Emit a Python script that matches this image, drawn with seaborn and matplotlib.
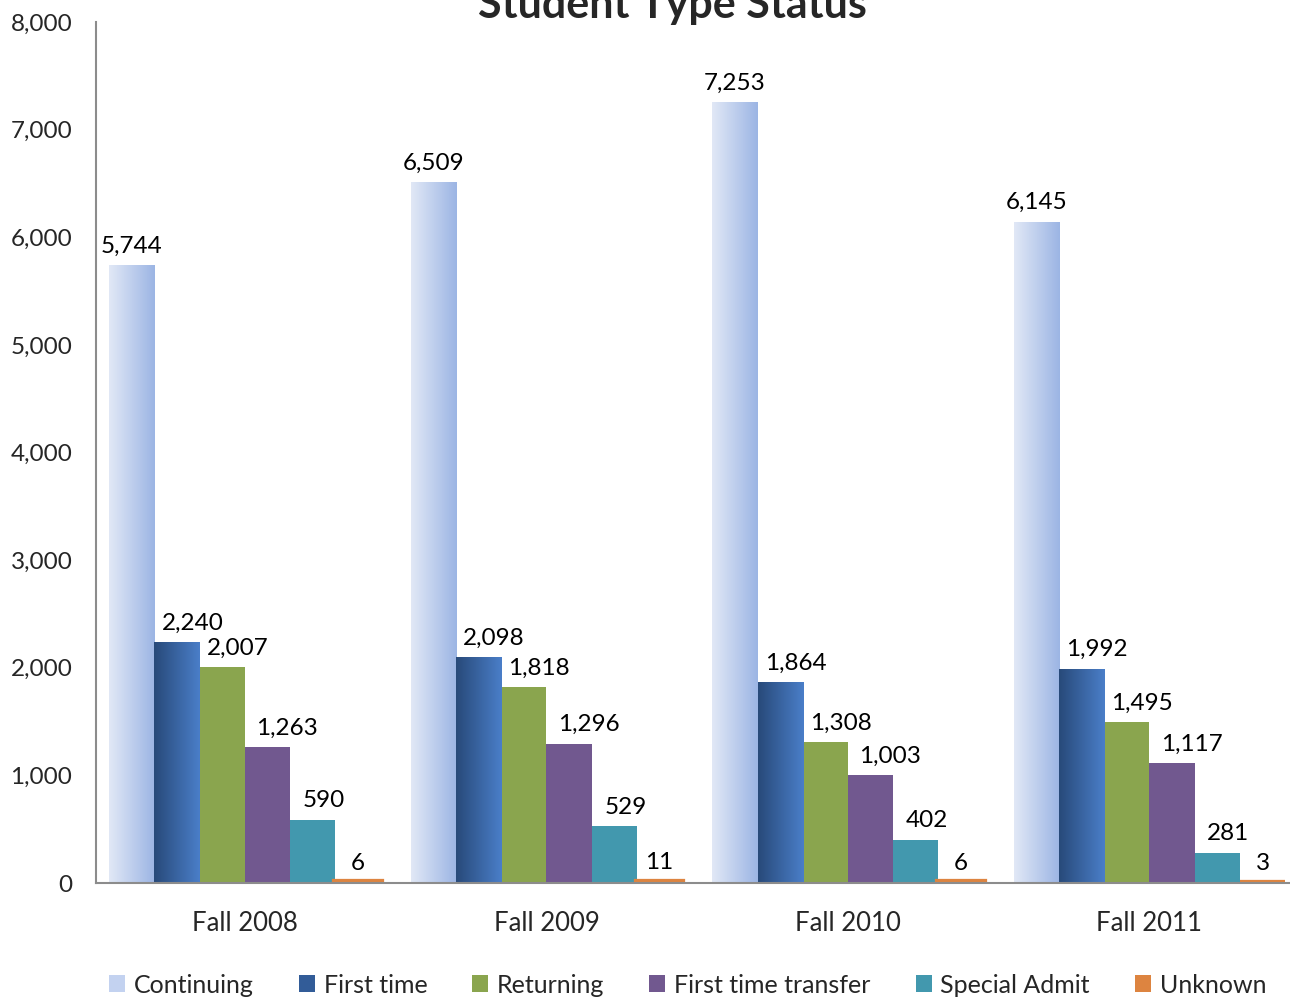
import matplotlib
matplotlib.use("Agg")
import matplotlib.pyplot as plt
import matplotlib.colors as mcolors
import numpy as np
import pandas as pd
import seaborn as sns

terms = ["Fall 2008", "Fall 2009", "Fall 2010", "Fall 2011"]
types = ["Continuing", "First time", "Returning", "First time transfer",
         "Special Admit", "Unknown"]
continuing = [5744, 6509, 7253, 6145]
first_time = [2240, 2098, 1864, 1992]
returning = [2007, 1818, 1308, 1495]
transfer = [1263, 1296, 1003, 1117]
special = [590, 529, 402, 281]
unknown = [6, 11, 6, 3]

rows = []
for t, vals in zip(types, [continuing, first_time, returning, transfer, special, unknown]):
    for term, v in zip(terms, vals):
        rows.append({"term": term, "type": t, "count": v})
df = pd.DataFrame(rows)

colors = ["#b9cbed", "#3a66a8", "#8aa54e", "#71588f", "#4298ae", "#dd8440"]
# gradients (left -> right) for the two shaded series
grads = {0: ("#e1e8f6", "#9cb5e4"), 1: ("#284a7a", "#4a7ec8")}

sns.set_style("white")
plt.rcParams["font.family"] = ["Lato", "DejaVu Sans"]

fig = plt.figure(figsize=(12.9, 9.97), dpi=100)
ax = fig.add_axes([96 / 1290, 114 / 997, 1 - 96 / 1290, (883 - 22) / 997])

sns.barplot(data=df, x="term", y="count", hue="type", hue_order=types,
            palette=colors, width=0.9, saturation=1, ax=ax, legend=False,
            edgecolor="none", linewidth=0)

# tiny Unknown bars still show as a thin strip above the axis line
for bar in ax.containers[5]:
    bar.set_edgecolor(colors[5])
    bar.set_linewidth(4.5)
    bar.set_joinstyle("miter")

# gradient fills
for i, (c0, c1) in grads.items():
    cmap = mcolors.LinearSegmentedColormap.from_list("g%d" % i, [c0, c1])
    for bar in ax.containers[i]:
        x0, y0 = bar.get_x(), bar.get_y()
        w, h = bar.get_width(), bar.get_height()
        bar.set_facecolor("none")
        im = ax.imshow(np.linspace(0, 1, 64).reshape(1, -1), cmap=cmap,
                       extent=[x0, x0 + w, y0, y0 + h], aspect="auto",
                       zorder=bar.get_zorder(), origin="lower")
        im.set_clip_path(bar)

# value labels
shifts = [0, 11, 11, 14, 8, 0]
for i, cont in enumerate(ax.containers):
    for bar in cont:
        v = bar.get_height()
        ax.annotate(f"{v:,.0f}", (bar.get_x() + bar.get_width() / 2, v),
                    xytext=(shifts[i], 6), textcoords="offset points",
                    ha="center", va="bottom", fontsize=17.5, color="black")

ax.set_xlim(-0.494, 3.466)
ax.set_ylim(0, 8000)
ax.set_yticks(range(0, 8001, 1000))
ax.set_yticklabels([f"{v:,}" for v in range(0, 8001, 1000)])
ax.tick_params(axis="y", length=0, pad=17, labelsize=17.5)
ax.tick_params(axis="x", length=0, pad=20, labelsize=18.5)
ax.set_xlabel("")
ax.set_ylabel("")
for s in ["top", "right"]:
    ax.spines[s].set_visible(False)
for s in ["left", "bottom"]:
    ax.spines[s].set_color("#8c8c8c")
    ax.spines[s].set_linewidth(1.5)

fig.text(672 / 1290, 1 - 18 / 997, "Student Type Status", ha="center",
         va="baseline", fontsize=31, fontweight="bold")

legend_colors = ["#c3d2f0", "#325c98"] + colors[2:]
handles = [plt.Rectangle((0, 0), 1, 1, facecolor=c, edgecolor="none")
           for c in legend_colors]
fig.legend(handles, types, loc="center", bbox_to_anchor=(0.533, 0.012),
           ncol=6, frameon=False, fontsize=18, handlelength=0.64,
           handleheight=0.64, handletextpad=0.35, columnspacing=1.8)

fig.savefig("out.png", dpi=100)
